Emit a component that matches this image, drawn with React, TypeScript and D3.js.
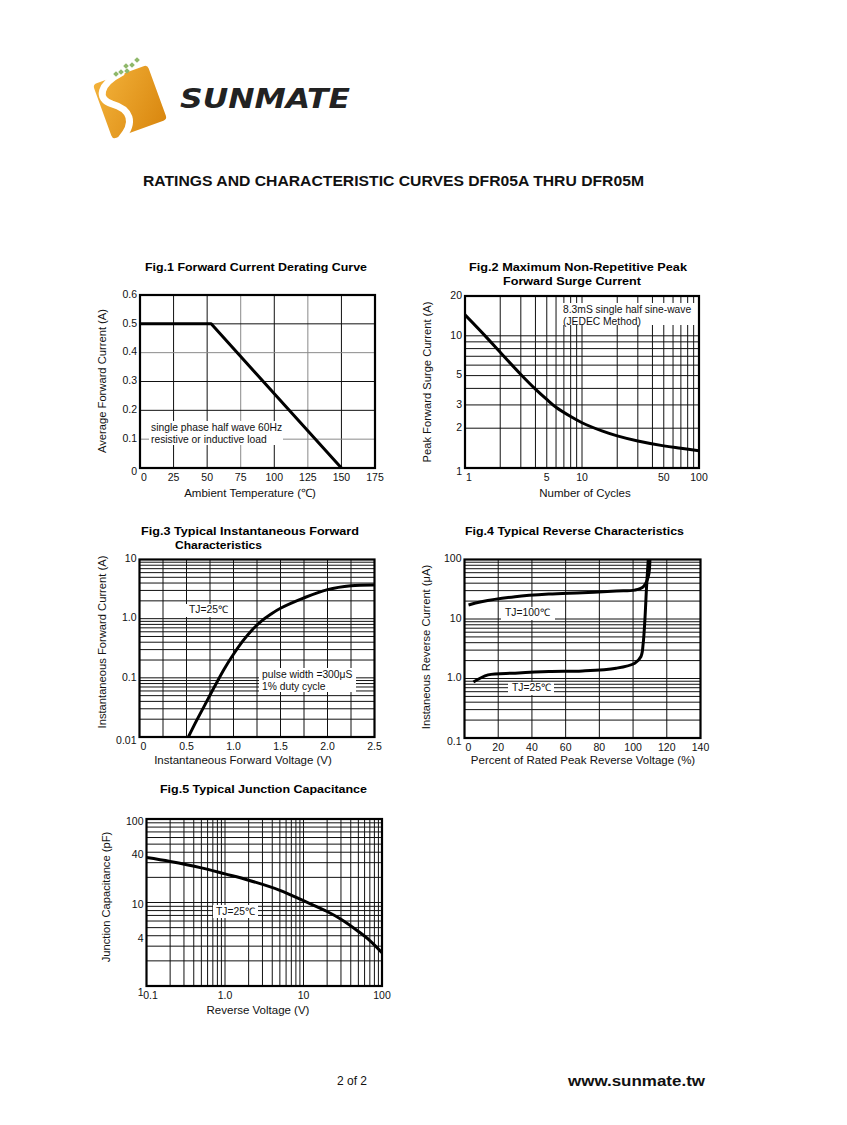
import React from "react";
import * as d3 from "d3";

// ---------- DATA ----------
const fig1Temp = [0, 53, 150];
const fig1Current = [0.5, 0.5, 0];
const fig1XTicks = [0, 25, 50, 75, 100, 125, 150, 175];
const fig1YTicks = [0, 0.1, 0.2, 0.3, 0.4, 0.5, 0.6];
const fig1YLabels = ["0", "0.1", "0.2", "0.3", "0.4", "0.5", "0.6"];

const fig2Cycles = [1, 1.5, 2, 3, 4, 5, 6, 8, 10, 15, 20, 30, 50, 70, 100];
const fig2Current = [14.4, 9.9, 7.5, 5.1, 3.95, 3.3, 2.88, 2.45, 2.2, 1.9, 1.75, 1.6, 1.47, 1.41, 1.35];
const fig2XTicks = [1, 5, 10, 50, 100];
const fig2XLabels = ["1", "5", "10", "50", "100"];
const fig2YTicks = [1, 2, 3, 5, 10, 20];
const fig2YLabels = ["1", "2", "3", "5", "10", "20"];

const fig3Voltage = [0.52, 0.6, 0.7, 0.8, 0.9, 1.0, 1.1, 1.2, 1.3, 1.4, 1.5, 1.75, 2.0, 2.25, 2.5];
const fig3Current = [0.01, 0.018, 0.036, 0.072, 0.14, 0.25, 0.42, 0.65, 0.92, 1.2, 1.5, 2.25, 3.1, 3.6, 3.7];
const fig3XTicks = [0, 0.5, 1.0, 1.5, 2.0, 2.5];
const fig3XLabels = ["0", "0.5", "1.0", "1.5", "2.0", "2.5"];
const fig3XGrid = [0.25, 0.5, 0.75, 1.0, 1.25, 1.5, 1.75, 2.0, 2.25];
const fig3YTicks = [0.01, 0.1, 1, 10];
const fig3YLabels = ["0.01", "0.1", "1.0", "10"];

const fig4Pct100 = [2.4, 10, 30, 50, 70, 90, 101, 106, 109, 110];
const fig4Cur100 = [17.2, 19.5, 23.7, 26.2, 27.6, 29.5, 30.6, 34.7, 51, 100];
const fig4Pct25 = [5.3, 14, 30, 50, 70, 90, 101, 104.7, 106, 107, 108, 109];
const fig4Cur25 = [0.87, 1.15, 1.23, 1.31, 1.34, 1.49, 1.81, 2.34, 3.9, 9.6, 34.7, 100];
const fig4XTicks = [0, 20, 40, 60, 80, 100, 120, 140];
const fig4YTicks = [0.1, 1, 10, 100];
const fig4YLabels = ["0.1", "1.0", "10", "100"];

const fig5Voltage = [0.1, 0.2, 0.5, 1, 2, 5, 10, 20, 30, 50, 70, 100];
const fig5Cap = [34.5, 31, 26, 22, 18.5, 14, 10.5, 7.8, 6.3, 4.5, 3.5, 2.5];
const fig5XTicks = [0.1, 1, 10, 100];
const fig5XLabels = ["0.1", "1.0", "10", "100"];
const fig5YTicks = [1, 4, 10, 40, 100];
const fig5YLabels = ["1", "4", "10", "40", "100"];

// ---------- HELPERS ----------
const FONT = "'Liberation Sans', Arial, Helvetica, sans-serif";

function logGrid(lo: number, hi: number): number[] {
  const out: number[] = [];
  for (let e = Math.floor(Math.log10(lo)); e <= Math.ceil(Math.log10(hi)); e++) {
    for (let k = 1; k < 10; k++) {
      const v = k * Math.pow(10, e);
      if (v > lo * 1.0001 && v < hi * 0.9999) out.push(v);
    }
  }
  return out;
}

type Ann = { lines: string[]; x: number; y: number; rect: [number, number, number, number] };

function Panel(props: {
  id: string;
  xs: any;
  ys: any;
  xGrid: number[];
  yGrid: number[];
  xTicks: number[];
  xLabels: string[];
  yTicks: number[];
  yLabels: string[];
  curves: { x: number[]; y: number[]; smooth: boolean }[];
  anns: Ann[];
  xTitle: string;
  xTitlePos: [number, number];
  yTitle: string;
  yTitlePos: [number, number];
  yLabelDy?: number;
  lightX?: number[];
  lightY?: number[];
}) {
  const { xs, ys } = props;
  const [x0, x1] = xs.range();
  const [y0, y1] = ys.range(); // y0 bottom, y1 top
  const lightX = props.lightX || [];
  const lightY = props.lightY || [];
  return (
    <g>
      <defs>
        <clipPath id={"clip" + props.id}>
          <rect x={x0} y={y1} width={x1 - x0} height={y0 - y1} />
        </clipPath>
      </defs>
      {props.xGrid.map((v, i) => (
        <line key={"gx" + i} x1={xs(v)} x2={xs(v)} y1={y1} y2={y0}
          stroke={lightX.includes(v) ? "#8a8a8a" : "#111"} strokeWidth={1} />
      ))}
      {props.yGrid.map((v, i) => (
        <line key={"gy" + i} x1={x0} x2={x1} y1={ys(v)} y2={ys(v)}
          stroke={lightY.includes(v) ? "#8a8a8a" : "#111"} strokeWidth={1} />
      ))}
      {props.anns.map((a, i) => (
        <g key={"a" + i}>
          <rect x={a.rect[0]} y={a.rect[1]} width={a.rect[2]} height={a.rect[3]} fill="#fff" />
          {a.lines.map((t, j) => (
            <text key={j} x={a.x} y={a.y + j * 11.5} fontSize={10.3} fontFamily={FONT} fill="#111">{t}</text>
          ))}
        </g>
      ))}
      <g clipPath={`url(#clip${props.id})`}>
        {props.curves.map((c, i) => {
          const pts = c.x.map((v, k) => [v, c.y[k]] as [number, number]);
          const gen = d3.line<[number, number]>()
            .x((d) => xs(d[0]))
            .y((d) => ys(d[1]))
            .curve(c.smooth ? d3.curveCatmullRom.alpha(0.5) : d3.curveLinear);
          return <path key={i} d={gen(pts) || ""} fill="none" stroke="#000" strokeWidth={3} strokeLinejoin="round" />;
        })}
      </g>
      <rect x={x0} y={y1} width={x1 - x0} height={y0 - y1} fill="none" stroke="#000" strokeWidth={2.2} />
      {props.xTicks.map((v, i) => (
        <text key={"xt" + i} x={xs(v) + (i === 0 ? 4 : 0)} y={y0 + 13} textAnchor="middle"
          fontSize={10.5} fontFamily={FONT} fill="#111">{props.xLabels[i]}</text>
      ))}
      {props.yTicks.map((v, i) => (
        <text key={"yt" + i} x={x0 - 3} y={ys(v) + (i === 0 ? 4 : 0) + (props.yLabelDy || 0)} textAnchor="end"
          dominantBaseline="middle" fontSize={10.5} fontFamily={FONT} fill="#111">{props.yLabels[i]}</text>
      ))}
      <text x={props.xTitlePos[0]} y={props.xTitlePos[1]} textAnchor="middle" fontSize={11.5}
        fontFamily={FONT} fill="#111">{props.xTitle}</text>
      <text transform={`translate(${props.yTitlePos[0]},${props.yTitlePos[1]}) rotate(-90)`}
        textAnchor="middle" dominantBaseline="middle" fontSize={11.2} fontFamily={FONT} fill="#111">{props.yTitle}</text>
    </g>
  );
}

function FigTitle(p: { x: number; y: number; w: number; text: string }) {
  return (
    <text x={p.x} y={p.y} fontSize={11.5} fontWeight="bold" fontFamily={FONT} fill="#000"
      textLength={p.w} lengthAdjust="spacingAndGlyphs">{p.text}</text>
  );
}

export default function App() {
  // Fig1
  const f1x = d3.scaleLinear().domain([0, 175]).range([140, 375]);
  const f1y = d3.scaleLinear().domain([0, 0.6]).range([468, 295]);
  // Fig2
  const f2x = d3.scaleLog().domain([1, 100]).range([465, 699]);
  const f2y = d3.scaleLog().domain([1, 20]).range([468, 296]);
  // Fig3
  const f3x = d3.scaleLinear().domain([0, 2.5]).range([139.5, 374.5]);
  const f3y = d3.scaleLog().domain([0.01, 10]).range([737, 559.5]);
  // Fig4
  const f4x = d3.scaleLinear().domain([0, 140]).range([464.5, 700.5]);
  const f4y = d3.scaleLog().domain([0.1, 100]).range([738, 559.5]);
  // Fig5
  const f5x = d3.scaleLog().domain([0.1, 100]).range([146.5, 382]);
  const f5y = d3.scaleLog().domain([1, 100]).range([986, 819]);

  return (
    <svg width={847} height={1125} style={{ position: "absolute", left: 0, top: 0, background: "#fff" }}
      xmlns="http://www.w3.org/2000/svg">
      <rect x={0} y={0} width={847} height={1125} fill="#fff" />
      {/* Logo */}
      <defs>
        <linearGradient id="logoGrad" x1="0" y1="0" x2="1" y2="1">
          <stop offset="0" stopColor="#f3b23a" />
          <stop offset="1" stopColor="#d9870f" />
        </linearGradient>
      </defs>
      <g transform="translate(130,102) rotate(-20)">
        <rect x={-29} y={-29} width={58} height={58} rx={4} fill="url(#logoGrad)" />
      </g>
      <path d="M 121 73 C 100 84, 96 99, 112 104 C 130 109, 136 122, 121 139" fill="none" stroke="#fff" strokeWidth={7} strokeLinecap="round" />
      <g fill="#8fb86a">
        <rect x={135} y={58} width={4} height={4} transform="rotate(45 137 60)" />
        <rect x={130} y={63} width={4} height={4} transform="rotate(45 132 65)" />
        <rect x={124} y={64} width={4} height={4} transform="rotate(45 126 66)" />
        <rect x={125} y={69} width={4} height={4} transform="rotate(45 127 71)" />
        <rect x={119} y={70} width={4} height={4} transform="rotate(45 121 72)" />
        <rect x={114} y={72} width={4} height={4} transform="rotate(45 116 74)" />
      </g>
      <text x={180} y={108} fontSize={26} fontWeight="900" fontStyle="italic" fontFamily="'DejaVu Sans', sans-serif"
        fill="#222" textLength={170} lengthAdjust="spacingAndGlyphs">SUNMATE</text>

      {/* Main title */}
      <text x={143} y={186} fontSize={14.5} fontWeight="bold" fontFamily={FONT} fill="#111"
        textLength={501} lengthAdjust="spacingAndGlyphs">RATINGS AND CHARACTERISTIC CURVES DFR05A THRU DFR05M</text>

      {/* Fig titles */}
      <FigTitle x={145} y={271} w={222} text="Fig.1 Forward Current Derating Curve" />
      <FigTitle x={469} y={271} w={218} text="Fig.2 Maximum Non-Repetitive Peak" />
      <FigTitle x={503} y={284.5} w={138} text="Forward Surge Current" />
      <FigTitle x={141} y={535} w={218} text="Fig.3 Typical Instantaneous Forward" />
      <FigTitle x={175} y={549} w={87} text="Characteristics" />
      <FigTitle x={465} y={535} w={219} text="Fig.4 Typical Reverse Characteristics" />
      <FigTitle x={160} y={793} w={207} text="Fig.5 Typical Junction Capacitance" />

      <Panel id="1" xs={f1x} ys={f1y}
        xGrid={fig1XTicks.slice(1, -1)} yGrid={fig1YTicks.slice(1, -1)}
        lightX={[75, 125]} lightY={[0.1, 0.4]}
        xTicks={fig1XTicks} xLabels={fig1XTicks.map(String)}
        yTicks={fig1YTicks} yLabels={fig1YLabels}
        curves={[{ x: fig1Temp, y: fig1Current, smooth: false }]}
        anns={[{ lines: ["single phase half wave 60Hz", "resistive or inductive load"], x: 151, y: 431, rect: [149, 421, 134, 24] }]}
        xTitle="Ambient Temperature (℃)" xTitlePos={[250, 497]}
        yTitle="Average Forward Current (A)" yTitlePos={[103, 381]} />

      <Panel id="2" xs={f2x} ys={f2y}
        xGrid={logGrid(1, 100)} yGrid={logGrid(1, 20)}
        xTicks={fig2XTicks} xLabels={fig2XLabels}
        yTicks={fig2YTicks} yLabels={fig2YLabels}
        curves={[{ x: fig2Cycles, y: fig2Current, smooth: true }]}
        anns={[{ lines: ["8.3mS single half sine-wave", "(JEDEC Method)"], x: 563, y: 313, rect: [561, 303, 135, 22] }]}
        xTitle="Number of Cycles" xTitlePos={[585, 497]}
        yTitle="Peak Forward Surge Current (A)" yTitlePos={[428, 382]} />

      <Panel id="3" xs={f3x} ys={f3y}
        xGrid={fig3XGrid} yGrid={logGrid(0.01, 10)}
        xTicks={fig3XTicks} xLabels={fig3XLabels}
        yTicks={fig3YTicks} yLabels={fig3YLabels}
        curves={[{ x: fig3Voltage, y: fig3Current, smooth: true }]}
        anns={[
          { lines: ["TJ=25℃"], x: 189, y: 613, rect: [186, 604, 38, 13] },
          { lines: ["pulse width =300μS", "1% duty cycle"], x: 262, y: 678, rect: [259, 668, 97, 24] },
        ]}
        xTitle="Instantaneous Forward Voltage (V)" xTitlePos={[243, 764]}
        yTitle="Instantaneous Forward Current (A)" yTitlePos={[103, 642]} />

      <Panel id="4" xs={f4x} ys={f4y}
        xGrid={fig4XTicks.slice(1, -1)} yGrid={logGrid(0.1, 100)}
        xTicks={fig4XTicks} xLabels={fig4XTicks.map(String)}
        yTicks={fig4YTicks} yLabels={fig4YLabels}
        curves={[
          { x: fig4Pct100, y: fig4Cur100, smooth: true },
          { x: fig4Pct25, y: fig4Cur25, smooth: true },
        ]}
        anns={[
          { lines: ["TJ=100℃"], x: 505, y: 616, rect: [501, 607, 54, 13] },
          { lines: ["TJ=25℃"], x: 512, y: 691, rect: [508, 682, 46, 13] },
        ]}
        xTitle="Percent of Rated Peak Reverse Voltage (%)" xTitlePos={[583, 764]}
        yTitle="Instaneous Reverse Current (μA)" yTitlePos={[427, 647]} />

      <Panel id="5" xs={f5x} ys={f5y}
        xGrid={logGrid(0.1, 100)} yGrid={logGrid(1, 100)}
        xTicks={fig5XTicks} xLabels={fig5XLabels}
        yTicks={fig5YTicks} yLabels={fig5YLabels} yLabelDy={3}
        curves={[{ x: fig5Voltage, y: fig5Cap, smooth: true }]}
        anns={[{ lines: ["TJ=25℃"], x: 216, y: 915, rect: [213, 905, 45, 13] }]}
        xTitle="Reverse Voltage (V)" xTitlePos={[258, 1014]}
        yTitle="Junction Capacitance (pF)" yTitlePos={[107, 897]} />

      {/* Footer */}
      <text x={337} y={1085} fontSize={12} fontFamily={FONT} fill="#111">2 of 2</text>
      <text x={568} y={1086} fontSize={14.5} fontWeight="bold" fontFamily={FONT} fill="#111"
        textLength={137} lengthAdjust="spacingAndGlyphs">www.sunmate.tw</text>
    </svg>
  );
}
